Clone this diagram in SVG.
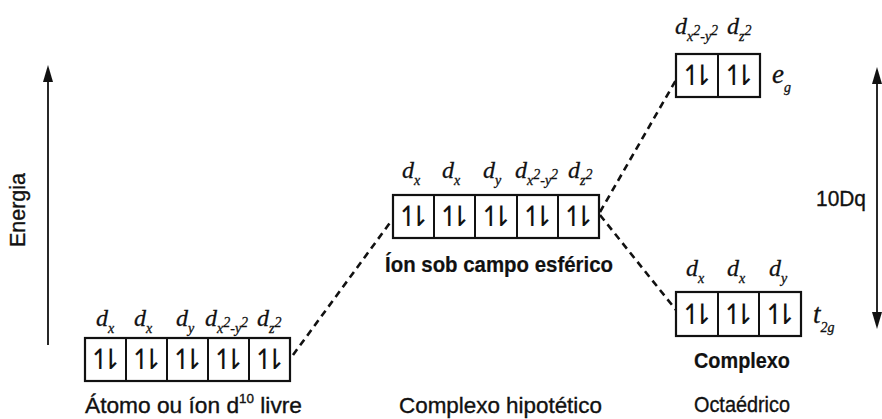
<svg xmlns="http://www.w3.org/2000/svg" width="882" height="419" viewBox="0 0 882 419">
<style>
.box{fill:#fff;stroke:#111;stroke-width:2.2}
.div{stroke:#111;stroke-width:2}
.hp{font-family:"DejaVu Sans",sans-serif;font-size:28px;letter-spacing:-13px;fill:#111;text-anchor:middle}
.d{font-family:"Liberation Serif",serif;font-style:italic;font-size:24px;fill:#111;stroke:#111;stroke-width:0.3}
.big{font-size:27px}
.s{font-size:14px}
.lab{font-family:"Liberation Sans",Arial,sans-serif;font-size:22px;fill:#111;stroke:#111;stroke-width:0.35}
.bold{font-weight:bold;stroke-width:0.2}
.dash{fill:none;stroke:#111;stroke-width:2.6;stroke-dasharray:7 5}
.axis{fill:none;stroke:#111;stroke-width:1.8}
.head{fill:#111}
</style>

<g id="connectors">
<line class="dash" x1="293" y1="355" x2="392" y2="220"/>
<line class="dash" x1="600" y1="212" x2="676" y2="80"/>
<line class="dash" x1="600" y1="215" x2="676" y2="310"/>
</g>

<g id="energy-axis">
<line class="axis" x1="48" y1="345" x2="48" y2="76"/>
<path class="head" d="M48,65 L53,82 L43,82 Z"/>
<text class="lab" transform="translate(25,210) rotate(-90)" text-anchor="middle" font-size="20" textLength="74" lengthAdjust="spacingAndGlyphs">Energia</text>
</g>

<g id="dq-axis">
<line class="axis" x1="877" y1="78" x2="877" y2="318"/>
<path class="head" d="M877,67 L882,84 L872,84 Z"/>
<path class="head" d="M877,329 L882,312 L872,312 Z"/>
<text class="lab" x="816" y="206" font-size="20" textLength="50" lengthAdjust="spacingAndGlyphs">10Dq</text>
</g>

<g id="free-ion">
<rect class="box" x="85" y="338" width="205" height="43"/>
<line class="div" x1="126" y1="338" x2="126" y2="381"/>
<line class="div" x1="167" y1="338" x2="167" y2="381"/>
<line class="div" x1="208" y1="338" x2="208" y2="381"/>
<line class="div" x1="249" y1="338" x2="249" y2="381"/>
<text class="hp" x="99" y="369">↿⇂</text>
<text class="hp" x="140" y="369">↿⇂</text>
<text class="hp" x="181" y="369">↿⇂</text>
<text class="hp" x="222" y="369">↿⇂</text>
<text class="hp" x="263" y="369">↿⇂</text>
<text class="d" x="96" y="326">d<tspan class="s" dy="7">x</tspan></text>
<text class="d" x="134" y="326">d<tspan class="s" dy="7">x</tspan></text>
<text class="d" x="176" y="326">d<tspan class="s" dy="7">y</tspan></text>
<text class="d" x="205" y="326">d<tspan class="s" dy="7">x</tspan><tspan class="s" dy="-6">2</tspan><tspan class="s" dy="6">-y</tspan><tspan class="s" dy="-6">2</tspan></text>
<text class="d" x="257" y="326">d<tspan class="s" dy="7">z</tspan><tspan class="s" dy="-6">2</tspan></text>
<text class="lab" x="85" y="413" textLength="217" lengthAdjust="spacingAndGlyphs">Átomo ou íon d<tspan font-size="13" dy="-10">10</tspan><tspan dy="10"> livre</tspan></text>
</g>

<g id="spherical">
<rect class="box" x="393" y="195" width="206" height="43"/>
<line class="div" x1="434" y1="195" x2="434" y2="238"/>
<line class="div" x1="475" y1="195" x2="475" y2="238"/>
<line class="div" x1="517" y1="195" x2="517" y2="238"/>
<line class="div" x1="558" y1="195" x2="558" y2="238"/>
<text class="hp" x="407" y="226">↿⇂</text>
<text class="hp" x="448" y="226">↿⇂</text>
<text class="hp" x="489.5" y="226">↿⇂</text>
<text class="hp" x="531" y="226">↿⇂</text>
<text class="hp" x="572" y="226">↿⇂</text>
<text class="d" x="402" y="178">d<tspan class="s" dy="7">x</tspan></text>
<text class="d" x="442" y="178">d<tspan class="s" dy="7">x</tspan></text>
<text class="d" x="483" y="178">d<tspan class="s" dy="7">y</tspan></text>
<text class="d" x="515" y="178">d<tspan class="s" dy="7">x</tspan><tspan class="s" dy="-6">2</tspan><tspan class="s" dy="6">-y</tspan><tspan class="s" dy="-6">2</tspan></text>
<text class="d" x="568" y="178">d<tspan class="s" dy="7">z</tspan><tspan class="s" dy="-6">2</tspan></text>
<text class="lab bold" x="385" y="272" textLength="228" lengthAdjust="spacingAndGlyphs">Íon sob campo esférico</text>
<text class="lab" x="399" y="413" textLength="203" lengthAdjust="spacingAndGlyphs">Complexo hipotético</text>
</g>

<g id="eg">
<rect class="box" x="676" y="54" width="84" height="43"/>
<line class="div" x1="718" y1="54" x2="718" y2="97"/>
<text class="hp" x="690.5" y="85">↿⇂</text>
<text class="hp" x="732.5" y="85">↿⇂</text>
<text class="d" x="675" y="34">d<tspan class="s" dy="7">x</tspan><tspan class="s" dy="-6">2</tspan><tspan class="s" dy="6">-y</tspan><tspan class="s" dy="-6">2</tspan></text>
<text class="d" x="727" y="34">d<tspan class="s" dy="7">z</tspan><tspan class="s" dy="-6">2</tspan></text>
<text class="d big" x="772" y="83">e<tspan class="s" dy="9">g</tspan></text>
</g>

<g id="t2g">
<rect class="box" x="676" y="292" width="125" height="44"/>
<line class="div" x1="718" y1="292" x2="718" y2="336"/>
<line class="div" x1="759" y1="292" x2="759" y2="336"/>
<text class="hp" x="690.5" y="324">↿⇂</text>
<text class="hp" x="732" y="324">↿⇂</text>
<text class="hp" x="773.5" y="324">↿⇂</text>
<text class="d" x="686" y="276">d<tspan class="s" dy="7">x</tspan></text>
<text class="d" x="727" y="276">d<tspan class="s" dy="7">x</tspan></text>
<text class="d" x="769" y="276">d<tspan class="s" dy="7">y</tspan></text>
<text class="d big" x="813" y="323">t<tspan class="s" dy="9">2g</tspan></text>
<text class="lab bold" x="694" y="368" textLength="96" lengthAdjust="spacingAndGlyphs">Complexo</text>
<text class="lab" x="694" y="412" textLength="96" lengthAdjust="spacingAndGlyphs">Octaédrico</text>
</g>
</svg>
